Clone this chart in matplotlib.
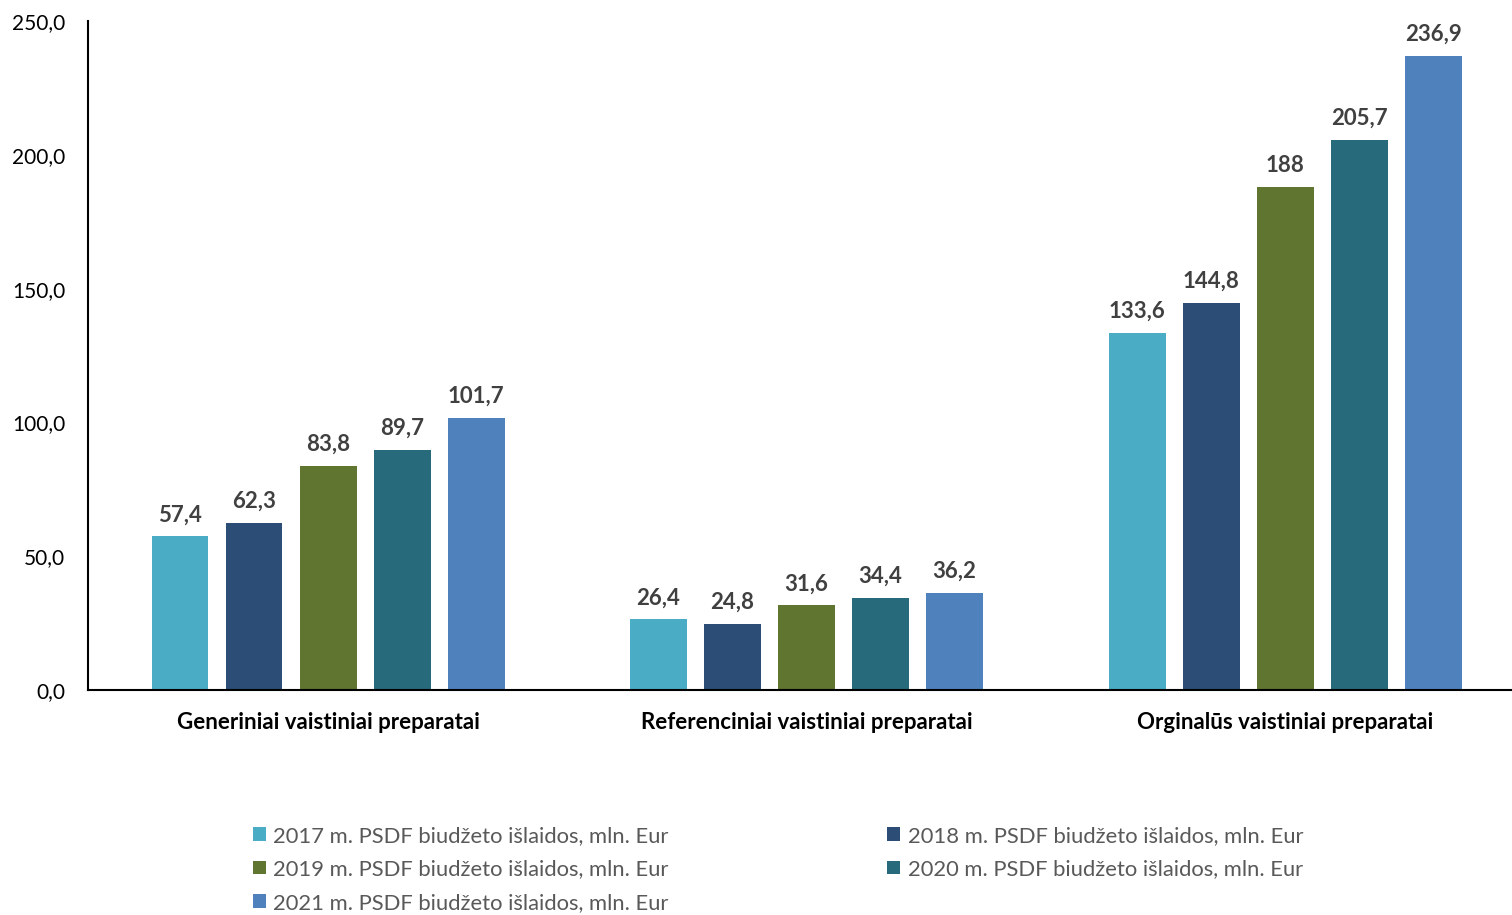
import matplotlib.pyplot as plt
import numpy as np

plt.rcParams['font.family'] = ['Lato', 'DejaVu Sans']

categories = ["Generiniai vaistiniai preparatai",
              "Referenciniai vaistiniai preparatai",
              "Orginalūs vaistiniai preparatai"]
series = ["2017 m. PSDF biudžeto išlaidos, mln. Eur",
          "2018 m. PSDF biudžeto išlaidos, mln. Eur",
          "2019 m. PSDF biudžeto išlaidos, mln. Eur",
          "2020 m. PSDF biudžeto išlaidos, mln. Eur",
          "2021 m. PSDF biudžeto išlaidos, mln. Eur"]
values = [
    [57.4, 26.4, 133.6],
    [62.3, 24.8, 144.8],
    [83.8, 31.6, 188.0],
    [89.7, 34.4, 205.7],
    [101.7, 36.2, 236.9],
]
labels = [
    ["57,4", "26,4", "133,6"],
    ["62,3", "24,8", "144,8"],
    ["83,8", "31,6", "188"],
    ["89,7", "34,4", "205,7"],
    ["101,7", "36,2", "236,9"],
]
colors = ["#4BACC6", "#2C4D75", "#5F7530", "#276A7C", "#4F81BD"]
yticks = [0, 50, 100, 150, 200, 250]
ytick_labels = ["0,0", "50,0", "100,0", "150,0", "200,0", "250,0"]

fig = plt.figure(figsize=(15.12, 9.15), dpi=100)
ax = fig.add_axes([0.0582, 0.2459, 0.9418, 0.7311])

x = np.arange(len(categories))
step = 0.1547
width = 0.119
handles = []
for i, (vals, labs) in enumerate(zip(values, labels)):
    pos = x + (i - 2) * step
    b = ax.bar(pos, vals, width, color=colors[i], label=series[i])
    handles.append(b)
    for p, v, t in zip(pos, vals, labs):
        ax.annotate(t, (p, v), xytext=(0, 8), textcoords='offset points',
                    ha='center', va='bottom', fontsize=16, fontweight='bold',
                    color='#404040')

ax.set_xlim(-0.5016, 2.474)
ax.set_ylim(0, 250)
ax.set_yticks(yticks)
ax.set_yticklabels(ytick_labels, fontsize=15, color='black')
ax.set_xticks(x)
ax.set_xticklabels(categories, fontsize=16, fontweight='bold')
ax.tick_params(axis='y', length=0, pad=16.5)
ax.tick_params(axis='x', length=0, pad=16)
for s in ['top', 'right']:
    ax.spines[s].set_visible(False)
ax.spines['left'].set_linewidth(1.5)
ax.spines['bottom'].set_linewidth(1.5)

order = [0, 2, 4, 1, 3]
leg = fig.legend([handles[k] for k in order], [series[k] for k in order],
                 ncol=2, loc='upper left', bbox_to_anchor=(0.167, 0.0977),
                 frameon=False, fontsize=15.8, handlelength=0.6, handleheight=0.6,
                 handletextpad=0.35, columnspacing=9.95, labelspacing=0.62,
                 borderaxespad=0, borderpad=0)
for t in leg.get_texts():
    t.set_color('#595959')

fig.savefig("out.png", dpi=100)
